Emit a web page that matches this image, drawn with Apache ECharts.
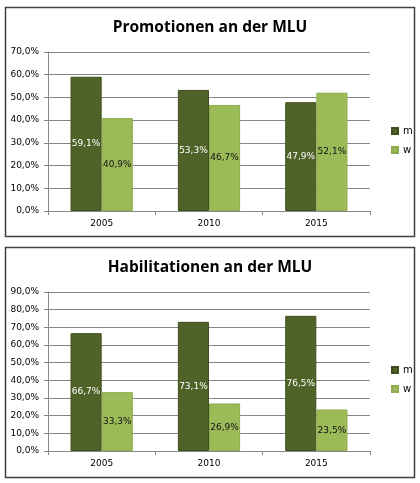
<!DOCTYPE html>
<html>
<head>
    <meta charset="utf-8">
    <title>Promotionen und Habilitationen an der MLU</title>
    <script src="https://cdn.jsdelivr.net/npm/echarts@6/dist/echarts.min.js"></script>
    <style>
        body { margin: 0; background: #fff; }
    </style>
</head>
<body>
<div id="main" style="width: 420px;height:483px;"></div>
<script type="text/javascript">

        // Daten
        var jahre = ['2005', '2010', '2015'];
        var promM = [59.1, 53.3, 47.9];
        var promW = [40.9, 46.7, 52.1];
        var habM = [66.7, 73.1, 76.5];
        var habW = [33.3, 26.9, 23.5];

        var farbeM = '#4F6228';
        var farbeW = '#9BBB59';
        var schrift = 'DejaVu Sans';

        function prozent(v){
            return v.toFixed(1).replace('.', ',') + '%';
        }

        function yAchse(idx, max){
            return {
                type: 'value',
                gridIndex: idx,
                min: 0,
                max: max,
                interval: 10,
                axisLine: {show: true, lineStyle: {color: '#888'}},
                axisTick: {show: true, length: 4, lineStyle: {color: '#888'}},
                splitLine: {lineStyle: {color: '#858585'}},
                axisLabel: {
                    fontFamily: schrift, fontSize: 9, color: '#000', margin: 9,
                    formatter: function(v){ return prozent(v); }
                }
            };
        }

        function xAchse(idx){
            return {
                type: 'category',
                gridIndex: idx,
                data: jahre,
                axisLine: {lineStyle: {color: '#888'}},
                axisTick: {show: true, length: 4, lineStyle: {color: '#888'}},
                axisLabel: {fontFamily: schrift, fontSize: 9, color: '#000', margin: 8}
            };
        }

        function balken(name, idx, werte, farbe, rand, textFarbe){
            return {
                name: name,
                type: 'bar',
                xAxisIndex: idx,
                yAxisIndex: idx,
                data: werte,
                barGap: '0%',
                barCategoryGap: '42%',
                itemStyle: {color: farbe, borderColor: rand, borderWidth: 1},
                label: {
                    show: true,
                    position: 'inside',
                    fontFamily: schrift,
                    fontSize: 9,
                    color: textFarbe,
                    formatter: function(p){ return prozent(p.value); }
                }
            };
        }

        function legende(top){
            return {
                orient: 'vertical',
                left: 386,
                top: top,
                itemWidth: 6,
                itemHeight: 6,
                itemGap: 9,
                icon: 'rect',
                data: ['m', 'w'],
                textStyle: {fontFamily: schrift, fontSize: 10, color: '#000'}
            };
        }

        var option = {
            animation: false,
            title: [
                {text: 'Promotionen an der MLU', left: 'center', top: 20, padding: 0,
                 textStyle: {fontFamily: 'Open Sans', fontWeight: 'bold', fontSize: 15.5, color: '#000'}},
                {text: 'Habilitationen an der MLU', left: 'center', top: 260, padding: 0,
                 textStyle: {fontFamily: 'Open Sans', fontWeight: 'bold', fontSize: 15.5, color: '#000'}}
            ],
            legend: [legende(121), legende(360)],
            grid: [
                {left: 48, top: 52, width: 322, height: 159},
                {left: 48, top: 292, width: 322, height: 159}
            ],
            xAxis: [xAchse(0), xAchse(1)],
            yAxis: [yAchse(0, 70), yAchse(1, 90)],
            graphic: [
                {type: 'rect', shape: {x: 5.5, y: 7.5, width: 409, height: 229},
                 style: {fill: 'none', stroke: '#404040', lineWidth: 1.5}},
                {type: 'rect', shape: {x: 5.5, y: 247.5, width: 409, height: 230},
                 style: {fill: 'none', stroke: '#404040', lineWidth: 1.5}}
            ],
            series: [
                balken('m', 0, promM, farbeM, '#3f4f1f', '#fff'),
                balken('w', 0, promW, farbeW, '#8dab4e', '#111'),
                balken('m', 1, habM, farbeM, '#3f4f1f', '#fff'),
                balken('w', 1, habW, farbeW, '#8dab4e', '#111')
            ]
        };

        var myChart = echarts.init(document.getElementById('main'));
        myChart.setOption(option);

</script>
</body>
</html>
